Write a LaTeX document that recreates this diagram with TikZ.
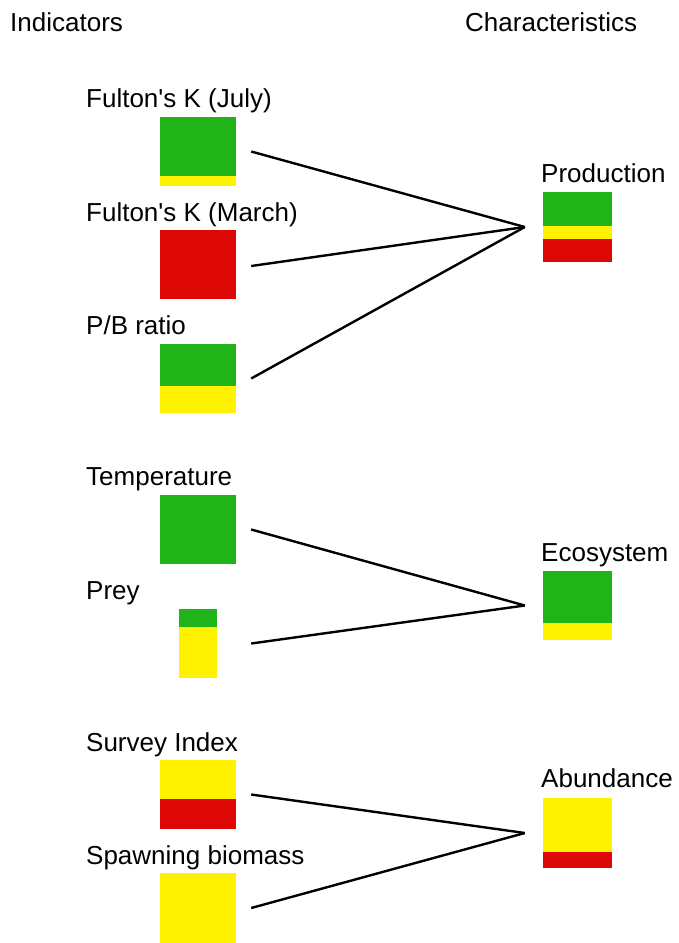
\documentclass[tikz,border=0pt]{standalone}
\usepackage{fontspec}
\setmainfont{Liberation Sans}
\definecolor{cgreen}{RGB}{33,180,25}
\definecolor{cyellow}{RGB}{255,242,0}
\definecolor{cred}{RGB}{221,8,5}
\tikzset{
  lbl/.style={anchor=base west, inner sep=0pt, font=\fontsize{26}{30}\selectfont},
  lbox/.style={rectangle, inner sep=0pt, minimum width=76pt, minimum height=69pt},
  rbox/.style={rectangle, inner sep=0pt, minimum width=69pt, minimum height=70pt},
  link/.style={line width=2.4pt, black}
}
\begin{document}
\begin{tikzpicture}[x=1pt,y=-1pt]
\useasboundingbox (0,0) rectangle (678,943);
% headings
\node[lbl] (hind) at (10,31) {Indicators};
\node[lbl] (hchar) at (465,31) {Characteristics};
% left labels
\node[lbl] (tfj) at (86,107) {Fulton\textquotesingle s K (July)};
\node[lbl] (tfm) at (86,221) {Fulton\textquotesingle s K (March)};
\node[lbl] (tpb) at (86,334) {P/B ratio};
\node[lbl] (ttemp) at (86,485) {Temperature};
\node[lbl] (tprey) at (86,599) {Prey};
\node[lbl] (tsurv) at (86,751) {Survey Index};
\node[lbl] (tspawn) at (86,864) {Spawning biomass};
% right labels
\node[lbl] (tprod) at (541,182) {Production};
\node[lbl] (teco) at (541,561) {Ecosystem};
\node[lbl] (tabund) at (541,787) {Abundance};
% left boxes
\fill[cgreen] (160,117) rectangle (236,176);
\fill[cyellow] (160,176) rectangle (236,186);
\node[lbox] (fj) at (198,151.5) {};
\fill[cred] (160,230) rectangle (236,299);
\node[lbox] (fm) at (198,264.5) {};
\fill[cgreen] (160,344) rectangle (236,386);
\fill[cyellow] (160,386) rectangle (236,413);
\node[lbox] (pb) at (198,378.5) {};
\fill[cgreen] (160,495) rectangle (236,564);
\node[lbox] (temp) at (198,529.5) {};
\fill[cgreen] (179,609) rectangle (217,627);
\fill[cyellow] (179,627) rectangle (217,678);
\node[lbox] (prey) at (198,643.5) {};
\fill[cyellow] (160,760) rectangle (236,799);
\fill[cred] (160,799) rectangle (236,829);
\node[lbox] (surv) at (198,794.5) {};
\fill[cyellow] (160,873) rectangle (236,943);
\node[lbox] (spawn) at (198,908) {};
% right boxes
\fill[cgreen] (543,192) rectangle (612,226);
\fill[cyellow] (543,226) rectangle (612,239);
\fill[cred] (543,239) rectangle (612,262);
\node[rbox] (prod) at (577.5,227) {};
\fill[cgreen] (543,571) rectangle (612,623);
\fill[cyellow] (543,623) rectangle (612,640);
\node[rbox] (eco) at (577.5,605.5) {};
\fill[cyellow] (543,798) rectangle (612,852);
\fill[cred] (543,852) rectangle (612,868);
\node[rbox] (abund) at (577.5,833) {};
% connector end points
\coordinate (cprod) at ([xshift=-18pt]prod.west);
\coordinate (ceco) at ([xshift=-18pt]eco.west);
\coordinate (cabund) at ([xshift=-18pt]abund.west);
% connectors
\draw[link] ([xshift=15pt]fj.east) -- (cprod);
\draw[link] ([xshift=15pt,yshift=-1.5pt]fm.east) -- (cprod);
\draw[link] ([xshift=15pt]pb.east) -- (cprod);
\draw[link] ([xshift=15pt]temp.east) -- (ceco);
\draw[link] ([xshift=15pt]prey.east) -- (ceco);
\draw[link] ([xshift=15pt]surv.east) -- (cabund);
\draw[link] ([xshift=15pt]spawn.east) -- (cabund);
\end{tikzpicture}
\end{document}
